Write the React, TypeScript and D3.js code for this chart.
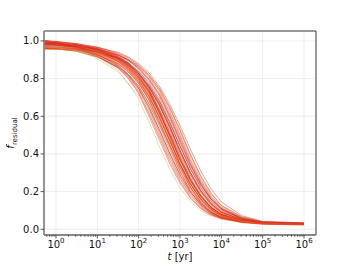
import * as d3 from "d3";
import React from "react";

// time grid, as exponents of ten (years)
const logTime = [-0.3, 0, 0.5, 1, 1.5, 1.75, 2, 2.25, 2.5, 2.75, 3, 3.25, 3.5, 3.75, 4, 4.5, 5, 6];

// residual fraction, one row per run
const runs = [
  [1.0, 0.995, 0.96, 0.92, 0.855, 0.8, 0.72, 0.6, 0.475, 0.35, 0.245, 0.165, 0.11, 0.075, 0.057, 0.038, 0.03, 0.028],
  [0.99, 0.985, 0.965, 0.93, 0.87, 0.82, 0.75, 0.64, 0.52, 0.395, 0.28, 0.19, 0.125, 0.085, 0.062, 0.04, 0.032, 0.03],
  [0.985, 0.98, 0.97, 0.94, 0.89, 0.845, 0.78, 0.685, 0.565, 0.44, 0.31, 0.2, 0.13, 0.085, 0.06, 0.04, 0.031, 0.027],
  [0.98, 0.978, 0.968, 0.945, 0.9, 0.862, 0.805, 0.73, 0.62, 0.5, 0.37, 0.26, 0.175, 0.115, 0.078, 0.045, 0.033, 0.029],
  [1.0, 0.99, 0.975, 0.955, 0.915, 0.88, 0.83, 0.76, 0.67, 0.55, 0.42, 0.305, 0.21, 0.14, 0.092, 0.05, 0.035, 0.03],
  [0.995, 0.99, 0.98, 0.96, 0.925, 0.895, 0.85, 0.79, 0.71, 0.6, 0.475, 0.35, 0.245, 0.16, 0.105, 0.055, 0.037, 0.031],
  [0.975, 0.975, 0.97, 0.955, 0.925, 0.9, 0.865, 0.815, 0.745, 0.645, 0.525, 0.395, 0.28, 0.19, 0.125, 0.065, 0.04, 0.033],
  [0.965, 0.96, 0.945, 0.915, 0.865, 0.82, 0.76, 0.67, 0.56, 0.445, 0.335, 0.24, 0.165, 0.11, 0.075, 0.042, 0.03, 0.025],
  [1.0, 0.998, 0.985, 0.96, 0.92, 0.885, 0.83, 0.745, 0.63, 0.49, 0.345, 0.225, 0.14, 0.09, 0.06, 0.035, 0.027, 0.024],
  [0.985, 0.982, 0.972, 0.95, 0.91, 0.875, 0.825, 0.765, 0.68, 0.57, 0.44, 0.32, 0.22, 0.145, 0.095, 0.05, 0.034, 0.03],
  [0.995, 0.99, 0.975, 0.945, 0.895, 0.855, 0.795, 0.71, 0.6, 0.475, 0.35, 0.245, 0.16, 0.105, 0.072, 0.043, 0.032, 0.028],
  [0.955, 0.955, 0.95, 0.93, 0.89, 0.855, 0.8, 0.72, 0.615, 0.495, 0.37, 0.265, 0.18, 0.12, 0.08, 0.046, 0.034, 0.03],
  [0.975, 0.97, 0.955, 0.915, 0.845, 0.77, 0.71, 0.62, 0.5, 0.375, 0.265, 0.18, 0.12, 0.08, 0.058, 0.037, 0.029, 0.026],
  [0.99, 0.988, 0.978, 0.96, 0.925, 0.9, 0.865, 0.81, 0.735, 0.625, 0.5, 0.37, 0.26, 0.175, 0.115, 0.06, 0.038, 0.032],
  [0.97, 0.968, 0.96, 0.94, 0.905, 0.87, 0.825, 0.76, 0.675, 0.565, 0.445, 0.335, 0.24, 0.165, 0.11, 0.058, 0.036, 0.03],
  [1.0, 0.995, 0.97, 0.935, 0.88, 0.835, 0.775, 0.69, 0.575, 0.45, 0.325, 0.22, 0.145, 0.095, 0.066, 0.04, 0.03, 0.026],
  [0.98, 0.978, 0.97, 0.95, 0.905, 0.87, 0.815, 0.74, 0.635, 0.515, 0.385, 0.27, 0.18, 0.115, 0.075, 0.04, 0.027, 0.022],
  [0.96, 0.958, 0.945, 0.915, 0.86, 0.815, 0.745, 0.65, 0.53, 0.405, 0.29, 0.2, 0.135, 0.09, 0.064, 0.04, 0.031, 0.027],
  [1.0, 0.996, 0.985, 0.965, 0.93, 0.9, 0.855, 0.795, 0.715, 0.6, 0.47, 0.345, 0.24, 0.16, 0.105, 0.056, 0.036, 0.031],
  [0.99, 0.987, 0.977, 0.955, 0.915, 0.875, 0.815, 0.73, 0.615, 0.48, 0.34, 0.225, 0.145, 0.095, 0.065, 0.04, 0.03, 0.026],
  [0.985, 0.984, 0.978, 0.965, 0.94, 0.915, 0.88, 0.83, 0.76, 0.665, 0.55, 0.425, 0.31, 0.215, 0.145, 0.072, 0.042, 0.034],
  [0.995, 0.985, 0.95, 0.905, 0.835, 0.775, 0.69, 0.57, 0.44, 0.32, 0.22, 0.15, 0.1, 0.07, 0.053, 0.036, 0.029, 0.026],
  [0.965, 0.963, 0.957, 0.94, 0.905, 0.872, 0.822, 0.752, 0.66, 0.545, 0.415, 0.3, 0.205, 0.135, 0.09, 0.05, 0.034, 0.029],
  [0.985, 0.982, 0.968, 0.94, 0.89, 0.85, 0.79, 0.705, 0.595, 0.47, 0.345, 0.24, 0.16, 0.105, 0.072, 0.042, 0.031, 0.027],
  [0.975, 0.973, 0.965, 0.945, 0.91, 0.877, 0.83, 0.765, 0.68, 0.565, 0.44, 0.325, 0.23, 0.16, 0.11, 0.06, 0.038, 0.033],
  [1.0, 0.994, 0.968, 0.93, 0.872, 0.825, 0.76, 0.665, 0.55, 0.425, 0.305, 0.21, 0.14, 0.092, 0.064, 0.04, 0.031, 0.027],
  [0.97, 0.968, 0.96, 0.94, 0.897, 0.86, 0.803, 0.725, 0.62, 0.5, 0.372, 0.262, 0.176, 0.116, 0.079, 0.046, 0.033, 0.028],
  [0.995, 0.993, 0.983, 0.965, 0.93, 0.905, 0.868, 0.815, 0.742, 0.64, 0.515, 0.385, 0.27, 0.18, 0.12, 0.062, 0.039, 0.033],
  [0.96, 0.958, 0.95, 0.925, 0.88, 0.843, 0.785, 0.7, 0.59, 0.47, 0.345, 0.24, 0.16, 0.106, 0.073, 0.043, 0.032, 0.028],
  [0.98, 0.978, 0.97, 0.95, 0.91, 0.875, 0.823, 0.752, 0.657, 0.535, 0.405, 0.29, 0.197, 0.13, 0.086, 0.048, 0.034, 0.029],
  [0.99, 0.984, 0.962, 0.925, 0.862, 0.81, 0.738, 0.635, 0.51, 0.385, 0.272, 0.185, 0.122, 0.082, 0.06, 0.039, 0.031, 0.027],
  [0.96, 0.958, 0.952, 0.94, 0.91, 0.882, 0.84, 0.78, 0.697, 0.588, 0.46, 0.34, 0.236, 0.157, 0.104, 0.056, 0.036, 0.031],
  [0.985, 0.98, 0.958, 0.92, 0.858, 0.805, 0.728, 0.615, 0.49, 0.365, 0.255, 0.172, 0.114, 0.078, 0.058, 0.038, 0.03, 0.027],
  [0.99, 0.988, 0.976, 0.952, 0.908, 0.87, 0.815, 0.74, 0.64, 0.52, 0.39, 0.275, 0.185, 0.12, 0.08, 0.045, 0.033, 0.029],
  [0.975, 0.972, 0.962, 0.935, 0.885, 0.842, 0.78, 0.695, 0.585, 0.46, 0.335, 0.232, 0.155, 0.102, 0.07, 0.042, 0.031, 0.027],
  [1.0, 0.992, 0.978, 0.955, 0.915, 0.88, 0.828, 0.758, 0.665, 0.55, 0.42, 0.302, 0.207, 0.138, 0.09, 0.05, 0.035, 0.03],
  [0.965, 0.963, 0.955, 0.935, 0.895, 0.858, 0.8, 0.722, 0.615, 0.495, 0.365, 0.255, 0.17, 0.112, 0.076, 0.044, 0.032, 0.028],
  [0.985, 0.983, 0.975, 0.958, 0.925, 0.897, 0.857, 0.8, 0.722, 0.612, 0.487, 0.36, 0.252, 0.168, 0.11, 0.058, 0.037, 0.032],
  [0.995, 0.99, 0.965, 0.928, 0.868, 0.818, 0.75, 0.65, 0.53, 0.405, 0.29, 0.198, 0.132, 0.088, 0.062, 0.04, 0.031, 0.027],
  [1.0, 0.996, 0.98, 0.95, 0.905, 0.865, 0.808, 0.73, 0.622, 0.5, 0.37, 0.26, 0.175, 0.115, 0.078, 0.045, 0.033, 0.029],
  [0.955, 0.955, 0.95, 0.935, 0.9, 0.868, 0.82, 0.75, 0.655, 0.535, 0.405, 0.29, 0.197, 0.13, 0.086, 0.048, 0.034, 0.029],
  [0.99, 0.986, 0.972, 0.943, 0.893, 0.852, 0.792, 0.708, 0.598, 0.473, 0.347, 0.242, 0.161, 0.106, 0.072, 0.043, 0.031, 0.027],
  [0.995, 0.994, 0.985, 0.968, 0.935, 0.91, 0.872, 0.82, 0.75, 0.65, 0.53, 0.4, 0.285, 0.192, 0.127, 0.066, 0.04, 0.033],
  [0.97, 0.967, 0.955, 0.927, 0.877, 0.835, 0.772, 0.685, 0.572, 0.448, 0.325, 0.225, 0.15, 0.099, 0.068, 0.041, 0.03, 0.026],
  [0.99, 0.988, 0.978, 0.957, 0.918, 0.885, 0.837, 0.772, 0.685, 0.572, 0.443, 0.322, 0.222, 0.148, 0.097, 0.052, 0.035, 0.03],
  [0.98, 0.977, 0.967, 0.945, 0.902, 0.865, 0.81, 0.735, 0.628, 0.508, 0.378, 0.266, 0.178, 0.117, 0.079, 0.045, 0.033, 0.028],
  [1.0, 0.996, 0.975, 0.945, 0.895, 0.855, 0.796, 0.712, 0.603, 0.478, 0.352, 0.246, 0.164, 0.108, 0.074, 0.043, 0.032, 0.028],
  [0.985, 0.983, 0.974, 0.953, 0.912, 0.877, 0.826, 0.756, 0.662, 0.545, 0.415, 0.298, 0.204, 0.135, 0.09, 0.05, 0.034, 0.029],
];

const runColors = [
  "#d62728", "#ff7f0e", "#d62728", "#d62728", "#e8502a", "#d62728", "#ff7f0e", "#2ca02c",
  "#d62728", "#ff7f0e", "#d62728", "#f0a040", "#8fbf7a", "#d62728", "#ff7f0e", "#d62728",
  "#e8502a", "#d62728", "#d62728", "#ff7f0e", "#d62728", "#f0a040", "#d62728", "#e8502a",
  "#1f77b4", "#d62728", "#d62728", "#ff7f0e", "#d62728", "#d62728", "#e8502a", "#d62728",
  "#d62728", "#d62728", "#ff7f0e", "#d62728", "#e8502a", "#d62728", "#d62728", "#d62728",
  "#ff7f0e", "#d62728", "#d62728", "#e8502a", "#d62728", "#d62728", "#ff7f0e", "#d62728",
];

const yTicks = [0, 0.2, 0.4, 0.6, 0.8, 1.0];
const xTickExp = [0, 1, 2, 3, 4, 5, 6];

const W = 352;
const H = 264;
const left = 44;
const right = 316;
const top = 31;
const bottom = 235;

export default function App() {
  const x = d3.scaleLog().domain([10 ** -0.29, 10 ** 6.29]).range([left, right]);
  const y = d3.scaleLinear().domain([-0.0303, 1.0526]).range([bottom, top]);

  const times = logTime.map((e) => 10 ** e);
  const line = d3
    .line<number>()
    .x((d, i) => x(times[i]))
    .y((d) => y(d));

  // minor ticks 2..9 x 10^k inside the domain
  const minor: number[] = [];
  for (let k = -1; k <= 6; k++) {
    for (let m = 2; m <= 9; m++) {
      const v = m * 10 ** k;
      if (v > x.domain()[0] && v < x.domain()[1]) minor.push(v);
    }
  }

  const font = "DejaVu Sans, sans-serif";

  return (
    <svg width={W} height={H} style={{ position: "absolute", left: 0, top: 0 }} fontFamily={font}>
      <rect width={W} height={H} fill="#fff" />
      <defs>
        <clipPath id="plot">
          <rect x={left} y={top} width={right - left} height={bottom - top} />
        </clipPath>
      </defs>

      {/* grid */}
      {xTickExp.map((e) => (
        <line key={"gx" + e} x1={x(10 ** e)} x2={x(10 ** e)} y1={top} y2={bottom} stroke="#ebebeb" strokeWidth={0.8} />
      ))}
      {yTicks.map((v) => (
        <line key={"gy" + v} x1={left} x2={right} y1={y(v)} y2={y(v)} stroke="#ebebeb" strokeWidth={0.8} />
      ))}

      {/* runs */}
      <g clipPath="url(#plot)" fill="none">
        {runs.map((r, i) => (
          <path key={i} d={line(r) || ""} stroke={runColors[i]} strokeWidth={1} strokeOpacity={0.45} />
        ))}
      </g>

      {/* frame */}
      <line x1={left} x2={right} y1={top} y2={top} stroke="#333" strokeWidth={1} />
      <line x1={right} x2={right} y1={top} y2={bottom} stroke="#555" strokeWidth={1.2} />
      <line x1={left} x2={left} y1={top} y2={bottom} stroke="#888" strokeWidth={1.8} />
      <line x1={left} x2={right} y1={bottom} y2={bottom} stroke="#888" strokeWidth={1.8} />

      {/* y axis */}
      {yTicks.map((v) => (
        <g key={"ty" + v}>
          <line x1={left - 3.5} x2={left} y1={y(v)} y2={y(v)} stroke="#333" strokeWidth={0.8} />
          <text x={left - 5} y={y(v)} dy="0.35em" textAnchor="end" fontSize={10} fill="#111">
            {v.toFixed(1)}
          </text>
        </g>
      ))}

      {/* x axis */}
      {minor.map((v) => (
        <line key={"mx" + v} x1={x(v)} x2={x(v)} y1={bottom} y2={bottom + 2} stroke="#333" strokeWidth={0.6} />
      ))}
      {xTickExp.map((e) => (
        <g key={"tx" + e}>
          <line x1={x(10 ** e)} x2={x(10 ** e)} y1={bottom} y2={bottom + 3.5} stroke="#333" strokeWidth={0.8} />
          <text x={x(10 ** e)} y={247.5} textAnchor="middle" fontSize={10} fill="#111">
            10
            <tspan fontSize={7} dy={-4.5}>
              {e}
            </tspan>
          </text>
        </g>
      ))}

      <text x={(left + right) / 2} y={259.5} textAnchor="middle" fontSize={10} fill="#111">
        <tspan fontStyle="italic">t</tspan> [yr]
      </text>

      <text transform={`translate(14,${(top + bottom) / 2}) rotate(-90)`} textAnchor="middle" fontSize={10} fill="#111">
        <tspan fontStyle="italic">f</tspan>
        <tspan fontSize={7} dy={2.5}>
          residual
        </tspan>
      </text>
    </svg>
  );
}
